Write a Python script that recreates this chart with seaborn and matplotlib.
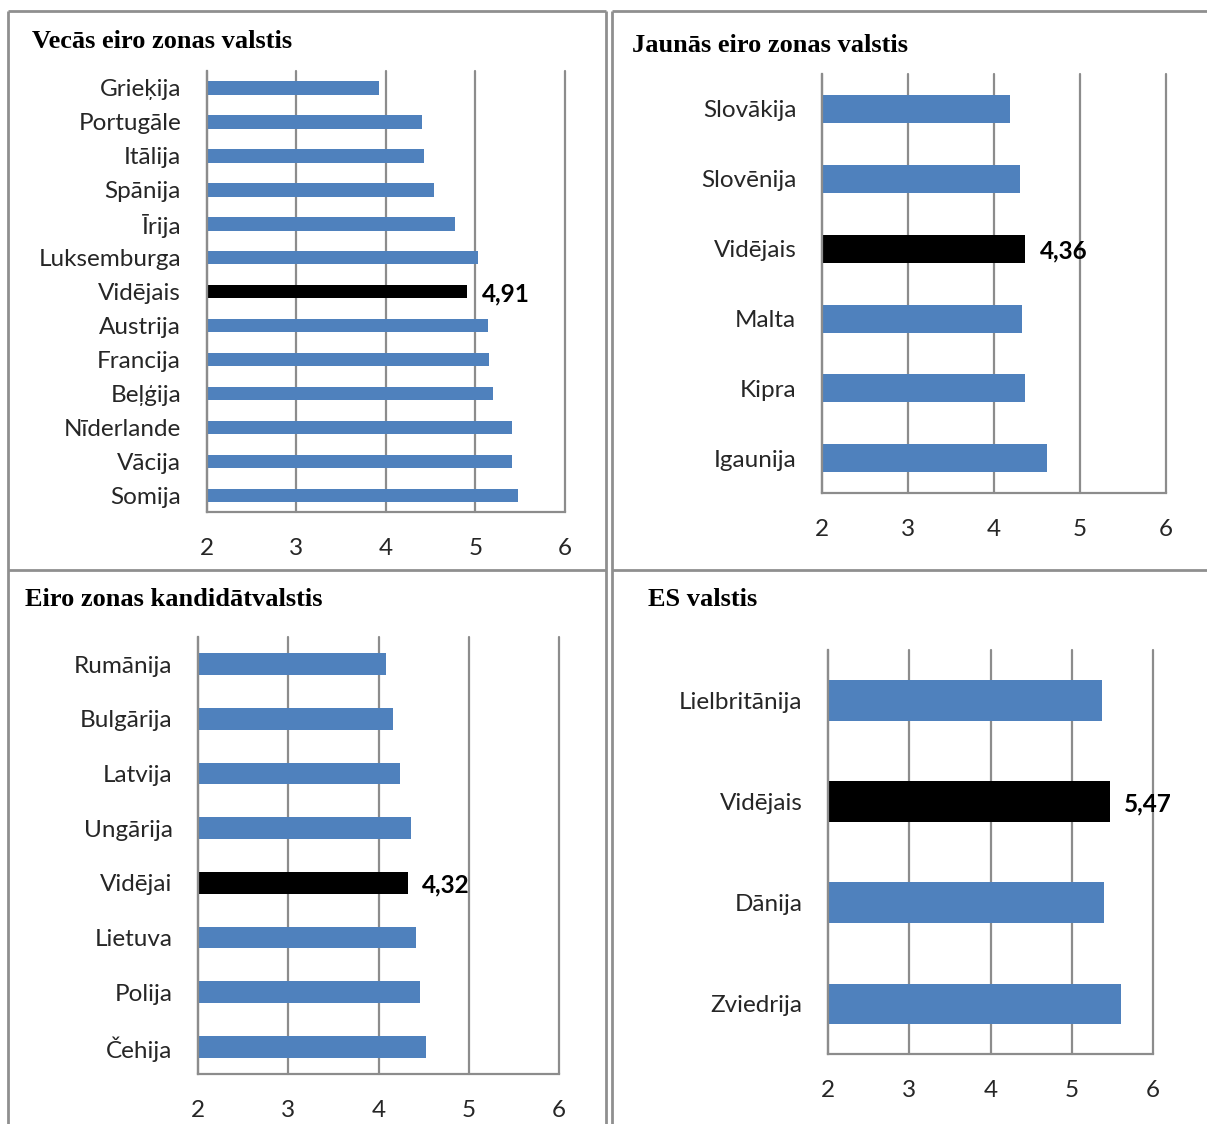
import matplotlib
matplotlib.use("Agg")
import matplotlib.pyplot as plt
from matplotlib.lines import Line2D
import numpy as np
import pandas as pd
import seaborn as sns

# ---- data -------------------------------------------------------------
old_countries = ["Grieķija", "Portugāle", "Itālija", "Spānija", "Īrija",
                 "Luksemburga", "Vidējais", "Austrija", "Francija",
                 "Beļģija", "Nīderlande", "Vācija", "Somija"]
old_values = [3.92, 4.40, 4.43, 4.54, 4.77, 5.03, 4.91, 5.14, 5.15,
              5.20, 5.41, 5.41, 5.47]

new_countries = ["Slovākija", "Slovēnija", "Vidējais", "Malta", "Kipra",
                 "Igaunija"]
new_values = [4.19, 4.30, 4.36, 4.33, 4.36, 4.62]

cand_countries = ["Rumānija", "Bulgārija", "Latvija", "Ungārija",
                  "Vidējai", "Lietuva", "Polija", "Čehija"]
cand_values = [4.08, 4.16, 4.24, 4.36, 4.32, 4.41, 4.46, 4.52]

eu_countries = ["Lielbritānija", "Vidējais", "Dānija", "Zviedrija"]
eu_values = [5.38, 5.47, 5.40, 5.61]

titles = ["Vecās eiro zonas valstis", "Jaunās eiro zonas valstis",
          "Eiro zonas kandidātvalstis", "ES valstis"]
x_ticks = [2, 3, 4, 5, 6]

# ---- style ------------------------------------------------------------
sns.set_style("white")
plt.rcParams["font.family"] = ["Lato", "DejaVu Sans"]

W, H = 1207, 1124
BLUE = "#4F81BD"
AVG = "#000000"
GRID = "#8C8C8C"
FS = 17.5
TITLE_FS = 19
TITLE_FONT = ["Liberation Serif", "DejaVu Serif"]

fig = plt.figure(figsize=(W / 100, H / 100), dpi=100)


def px_rect(x0, y0, x1, y1):
    """Axes rectangle from pixel edges (y measured from the top)."""
    return [x0 / W, 1 - y1 / H, (x1 - x0) / W, (y1 - y0) / H]


def draw_panel(box, countries, values, title, title_xy):
    ax = fig.add_axes(px_rect(*box))
    df = pd.DataFrame({"valsts": countries, "vērtība": values})
    palette = {c: (AVG if c.startswith("Vidēj") else BLUE) for c in countries}
    sns.barplot(data=df, x="vērtība", y="valsts", hue="valsts",
                palette=palette, orient="h", width=0.4, saturation=1,
                legend=False, linewidth=0, ax=ax)
    n = len(countries)
    ax.set_xlim(2, 6)
    ax.set_ylim(n - 0.5, -0.5)
    ax.set_xlabel("")
    ax.set_ylabel("")

    ax.set_axisbelow(True)
    ax.set_xticks(x_ticks)
    ax.set_xticklabels([str(t) for t in x_ticks])
    ax.xaxis.grid(True, color=GRID, linewidth=1.6)
    for gl in ax.get_xgridlines():
        gl.set_clip_on(False)

    ax.set_yticks(np.arange(n + 1) - 0.5, minor=True)
    ax.tick_params(axis="y", which="major", length=0, pad=18.5,
                   labelsize=FS)
    ax.tick_params(axis="y", which="minor", length=6.5, width=1.6,
                   color=GRID, direction="out")
    ax.tick_params(axis="x", which="major", length=6.5, width=1.6,
                   color=GRID, direction="out", pad=12, labelsize=FS)

    for side in ("top", "right"):
        ax.spines[side].set_visible(False)
    for side in ("left", "bottom"):
        ax.spines[side].set_color(GRID)
        ax.spines[side].set_linewidth(1.6)

    for i, (c, v) in enumerate(zip(countries, values)):
        if c.startswith("Vidēj"):
            ax.annotate(f"{v:.2f}".replace(".", ","), xy=(v, i),
                        xytext=(10.5, -1.5), textcoords="offset points",
                        ha="left", va="center", fontsize=FS,
                        fontweight="bold", color="black",
                        annotation_clip=False)

    fig.text(title_xy[0] / W, 1 - title_xy[1] / H, title,
             family=TITLE_FONT, fontweight="bold", fontsize=TITLE_FS,
             ha="left", va="center", color="black")
    return ax


draw_panel((206.7, 71, 565, 512.3), old_countries, old_values,
           titles[0], (32, 42))
draw_panel((822, 74, 1166, 493.3), new_countries, new_values,
           titles[1], (632, 45))
draw_panel((198.3, 636.7, 559, 1074.3), cand_countries, cand_values,
           titles[2], (25, 600))
draw_panel((828.3, 650, 1152.7, 1054.3), eu_countries, eu_values,
           titles[3], (648, 600))

# ---- panel frames -----------------------------------------------------
FRAME = "#8F8F8F"


def frame_line(x0, y0, x1, y1):
    fig.add_artist(Line2D([x0 / W, x1 / W], [1 - y0 / H, 1 - y1 / H],
                          transform=fig.transFigure, color=FRAME,
                          linewidth=2.0, solid_capstyle="butt"))


# left column
frame_line(8.3, 10.7, 605.7, 10.7)
frame_line(8.3, 10.7, 8.3, H + 5)
frame_line(605.7, 10.7, 605.7, H + 5)
frame_line(8.3, 570, 605.7, 570)
# right column
frame_line(612.3, 10.7, W + 5, 10.7)
frame_line(612.3, 10.7, 612.3, H + 5)
frame_line(612.3, 570, W + 5, 570)

fig.savefig("out.png", dpi=100)
